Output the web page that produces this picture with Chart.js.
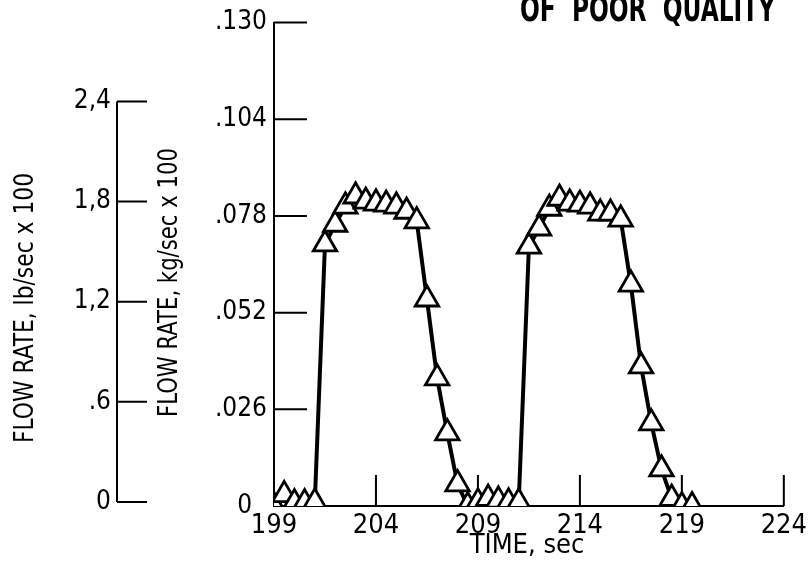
<!DOCTYPE html>
<html>
<head>
<meta charset="utf-8">
<script src="https://cdn.jsdelivr.net/npm/chart.js@4.4.1/dist/chart.umd.min.js"></script>
<style>
  html, body { margin: 0; background: #fff; }
  #wrap { width: 811px; height: 575px; }
</style>
</head>
<body>
<div id="wrap"><canvas id="flowChart"></canvas></div>
<script>
// time, sec
const times = [199, 199.5, 200, 200.5, 201, 201.5, 202, 202.5, 203, 203.5, 204, 204.5, 205, 205.5,
  206, 206.5, 207, 207.5, 208, 208.5, 209, 209.5, 210, 210.5, 211, 211.5, 212, 212.5, 213, 213.5,
  214, 214.5, 215, 215.5, 216, 216.5, 217, 217.5, 218, 218.5, 219, 219.5];
// flow rate, kg/sec x 100
const flowKg = [0, 0.003, 0.0008, 0.0008, 0.001, 0.0704, 0.0757, 0.0806, 0.0833, 0.0819, 0.0814, 0.0811, 0.0806, 0.0792,
  0.0766, 0.0556, 0.0344, 0.0196, 0.0059, 0, 0.001, 0.002, 0.0015, 0.001, 0.001, 0.0698, 0.0747, 0.0800, 0.0827, 0.0814,
  0.0811, 0.0806, 0.0787, 0.0787, 0.0771, 0.0596, 0.0376, 0.0223, 0.0099, 0.002, 0, 0];

const kgTicks = [0, 0.026, 0.052, 0.078, 0.104, 0.130];
const kgLabels = ['0  ', '.026', '.052', '.078', '.104', '.130'];
const lbTicks = [0, 0.6, 1.2, 1.8, 2.4];
const lbLabels = ['0', '.6', '1,2', '1,8', '2,4'];
const timeTicks = [199, 204, 209, 214, 219, 224];

const FONT = "'DejaVu Sans Condensed', 'DejaVu Sans', sans-serif";

// draws the inward tick marks, the short lb axis and the titles
const axisDecor = {
  id: 'axisDecor',
  beforeDatasetsDraw(chart) {
    const { ctx, scales: { x, y, y2 } } = chart;
    ctx.save();
    ctx.strokeStyle = '#000';
    ctx.lineWidth = 2;
    ctx.beginPath();
    kgTicks.slice(1).forEach(v => {
      const py = y.getPixelForValue(v);
      ctx.moveTo(x.left, py); ctx.lineTo(x.left + 33, py);
    });
    timeTicks.slice(1).forEach(t => {
      const px = x.getPixelForValue(t);
      ctx.moveTo(px, y.bottom); ctx.lineTo(px, y.bottom - 31);
    });
    // lb/sec axis
    const ax = y2.right;
    ctx.moveTo(ax, y2.getPixelForValue(0));
    ctx.lineTo(ax, y2.getPixelForValue(2.4));
    lbTicks.forEach(v => {
      const py = y2.getPixelForValue(v);
      ctx.moveTo(ax, py); ctx.lineTo(ax + 30, py);
    });
    ctx.stroke();
    ctx.restore();
  },
  afterDraw(chart) {
    const { ctx } = chart;
    ctx.save();
    ctx.fillStyle = '#000';
    const vTitle = (text, bx, by, len) => {
      ctx.save();
      ctx.font = '27px ' + FONT;
      ctx.translate(bx, by);
      ctx.rotate(-Math.PI / 2);
      ctx.scale(len / ctx.measureText(text).width, 1);
      ctx.textAlign = 'left';
      ctx.textBaseline = 'alphabetic';
      ctx.fillText(text, 0, 0);
      ctx.restore();
    };
    vTitle('FLOW RATE, lb/sec x 100', 33, 443, 270);
    vTitle('FLOW RATE, kg/sec x 100', 177, 417, 269);

    ctx.font = '27px ' + FONT;
    ctx.textAlign = 'center';
    ctx.textBaseline = 'alphabetic';
    ctx.fillText('TIME, sec', 527, 553);

    ctx.save();
    ctx.font = 'bold 36px ' + FONT;
    const head = 'OF  POOR  QUALITY';
    ctx.translate(520, 21);
    ctx.scale(255 / ctx.measureText(head).width, 1);
    ctx.textAlign = 'left';
    ctx.fillText(head, 0, 0);
    ctx.restore();
    ctx.restore();
  }
};

const ctx = document.getElementById('flowChart').getContext('2d');

new Chart(ctx, {
  type: 'line',
  data: {
    datasets: [{
      data: times.map((t, i) => ({ x: t, y: flowKg[i] })),
      borderColor: '#000',
      borderWidth: 4,
      tension: 0,
      pointStyle: 'triangle',
      pointRadius: 13.5,
      pointBorderWidth: 2.8,
      pointBorderColor: '#000',
      pointBackgroundColor: '#fff'
    }]
  },
  options: {
    responsive: true,
    maintainAspectRatio: false,
    animation: false,
    layout: { padding: { top: 22, right: 23, left: 0, bottom: 0 } },
    plugins: { legend: { display: false }, tooltip: { enabled: false } },
    scales: {
      x: {
        type: 'linear',
        min: 199,
        max: 224,
        afterBuildTicks: s => { s.ticks = timeTicks.map(v => ({ value: v })); },
        afterFit: s => { s.height = 69; },
        ticks: { color: '#000', font: { size: 27, family: FONT }, padding: 4, maxRotation: 0 },
        grid: { drawOnChartArea: false, drawTicks: false },
        border: { color: '#000', width: 2 }
      },
      y: {
        min: 0,
        max: 0.130,
        weight: 0,
        afterBuildTicks: s => { s.ticks = kgTicks.map(v => ({ value: v })); },
        afterFit: s => { s.width = 157; },
        ticks: { color: '#000', font: { size: 26, family: FONT }, padding: 7, callback: (v, i) => kgLabels[i] },
        grid: { drawOnChartArea: false, drawTicks: false },
        border: { color: '#000', width: 2 }
      },
      y2: {
        position: 'left',
        min: -0.024,
        max: 2.872,
        weight: 1,
        afterBuildTicks: s => { s.ticks = lbTicks.map(v => ({ value: v })); },
        afterFit: s => { s.width = 117; },
        ticks: { color: '#000', font: { size: 26, family: FONT }, padding: 6, callback: (v, i) => lbLabels[i] },
        grid: { display: false, drawTicks: false },
        border: { display: false }
      }
    }
  },
  plugins: [axisDecor]
});
</script>
</body>
</html>
